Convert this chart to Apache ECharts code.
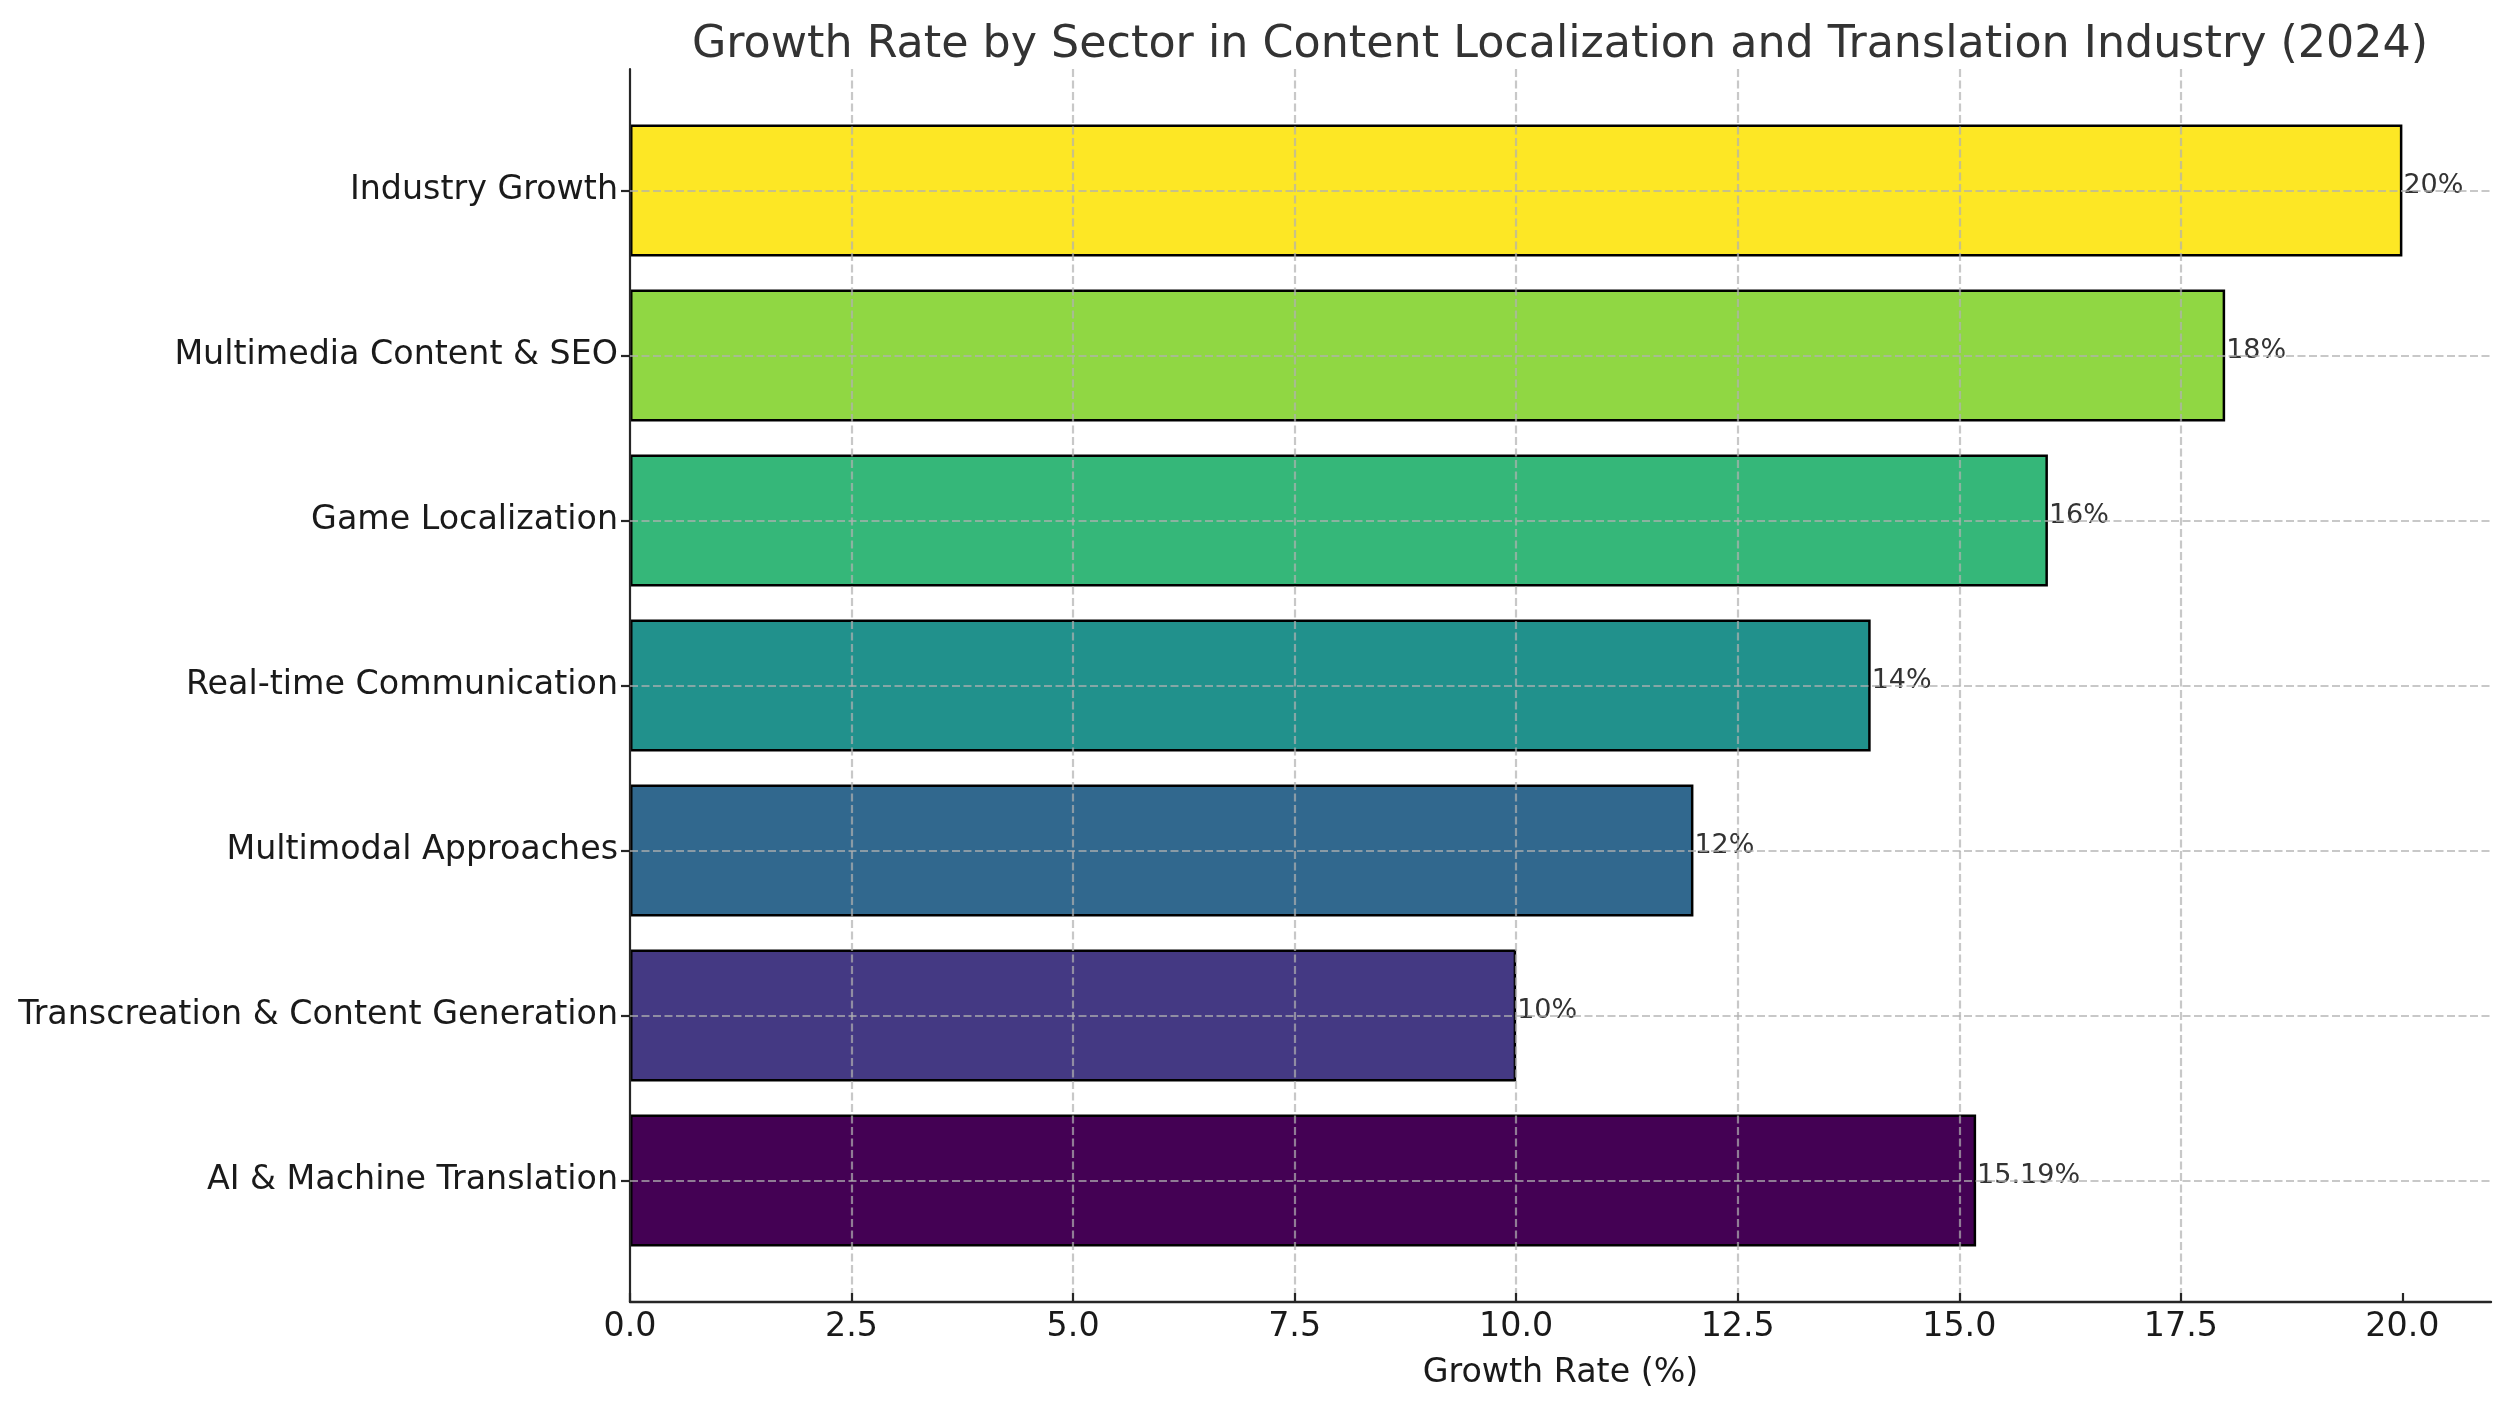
<!DOCTYPE html>
<html>
<head>
<meta charset="utf-8">
<title>Growth Rate by Sector</title>
<script src="https://cdn.jsdelivr.net/npm/echarts@6/dist/echarts.min.js"></script>
<style>
  html, body { margin: 0; padding: 0; background: #fff; }
  #chart { width: 2510px; height: 1409px; }
</style>
</head>
<body>
<div id="chart"></div>
<script>
// categories from bottom to top, same order as the bars
var sectors = [
  'AI & Machine Translation',
  'Transcreation & Content Generation',
  'Multimodal Approaches',
  'Real-time Communication',
  'Game Localization',
  'Multimedia Content & SEO',
  'Industry Growth'
];
var growthRates = [15.19, 10, 12, 14, 16, 18, 20];
var barColors = ['#440154', '#443983', '#31688e', '#21918c', '#35b779', '#90d743', '#fde725'];
var xTicks = [0, 2.5, 5, 7.5, 10, 12.5, 15, 17.5, 20];
var xMax = 21;

var fontName = 'DejaVu Sans';
var gridColor = 'rgba(176,176,176,0.7)';
var spineColor = '#262626';

function buildBarData() {
  var data = [];
  for (var i = 0; i < growthRates.length; i++) {
    data.push({ value: growthRates[i], itemStyle: { color: barColors[i] } });
  }
  return data;
}

function buildGridLines() {
  // horizontal dashed grid lines at each category centre
  return sectors.map(function(name) {
    return { yAxis: name };
  });
}

var chart = echarts.init(document.getElementById('chart'));

var option = {
  animation: false,
  textStyle: { fontFamily: fontName },
  title: {
    text: 'Growth Rate by Sector in Content Localization and Translation Industry (2024)',
    left: 1555,
    top: 18,
    textAlign: 'center',
    textStyle: { fontFamily: fontName, fontSize: 44.4, fontWeight: 'normal', color: '#333', lineHeight: 44 }
  },
  grid: [
    // bars: bands of one unit, padded like the matplotlib limits
    { left: 630, right: 19, top: 108, bottom: 146 },
    // frame: full axes area for spines and vertical grid
    { left: 630, right: 19, top: 69, bottom: 107 }
  ],
  xAxis: [
    {
      gridIndex: 0, type: 'value', min: 0, max: xMax, show: false
    },
    {
      gridIndex: 1, type: 'value', min: 0, max: xMax,
      interval: xTicks[1] - xTicks[0],
      z: 3,
      name: 'Growth Rate (%)',
      nameLocation: 'middle',
      nameGap: 55,
      nameTextStyle: { fontFamily: fontName, fontSize: 33.3, color: '#1a1a1a', lineHeight: 33 },
      axisLine: { show: true, lineStyle: { color: spineColor, width: 2.4 } },
      axisTick: {
        show: true, inside: true, length: 9, customValues: xTicks,
        lineStyle: { color: spineColor, width: 2.2 }
      },
      axisLabel: {
        margin: 9,
        customValues: xTicks,
        fontFamily: fontName, fontSize: 33.3, color: '#1a1a1a', lineHeight: 33,
        formatter: function(v) {
          return xTicks.indexOf(v) >= 0 ? v.toFixed(1) : '';
        }
      },
      splitLine: {
        show: true, showMinLine: false, showMaxLine: false,
        lineStyle: { color: gridColor, width: 2.2, type: [8, 3.5] }
      }
    }
  ],
  yAxis: [
    {
      gridIndex: 0, type: 'category', data: sectors,
      axisLine: { show: false },
      axisTick: { show: true, alignWithLabel: true, length: 9, lineStyle: { color: spineColor, width: 2.2 } },
      axisLabel: { margin: 12, fontFamily: fontName, fontSize: 33.3, color: '#1a1a1a', padding: [10, 0, 0, 0] },
      splitLine: { show: false }
    },
    {
      gridIndex: 1, type: 'value', min: 0, max: 1, z: 4,
      axisLine: { show: true, lineStyle: { color: spineColor, width: 2.2 } },
      axisTick: { show: false },
      axisLabel: { show: false },
      splitLine: { show: false }
    }
  ],
  series: [
    {
      type: 'bar',
      xAxisIndex: 0,
      yAxisIndex: 0,
      barWidth: '80%',
      data: buildBarData(),
      itemStyle: { borderColor: '#000', borderWidth: 2.5 },
      label: {
        show: true,
        position: 'right',
        distance: 1,
        offset: [0, -5],
        fontFamily: fontName,
        fontSize: 27,
        color: '#333',
        formatter: function(p) { return p.value + '%'; }
      },
      markLine: {
        silent: true,
        symbol: 'none',
        label: { show: false },
        lineStyle: { color: gridColor, width: 2.2, type: [8, 3.5] },
        data: buildGridLines()
      }
    }
  ]
};

chart.setOption(option);
</script>
</body>
</html>
